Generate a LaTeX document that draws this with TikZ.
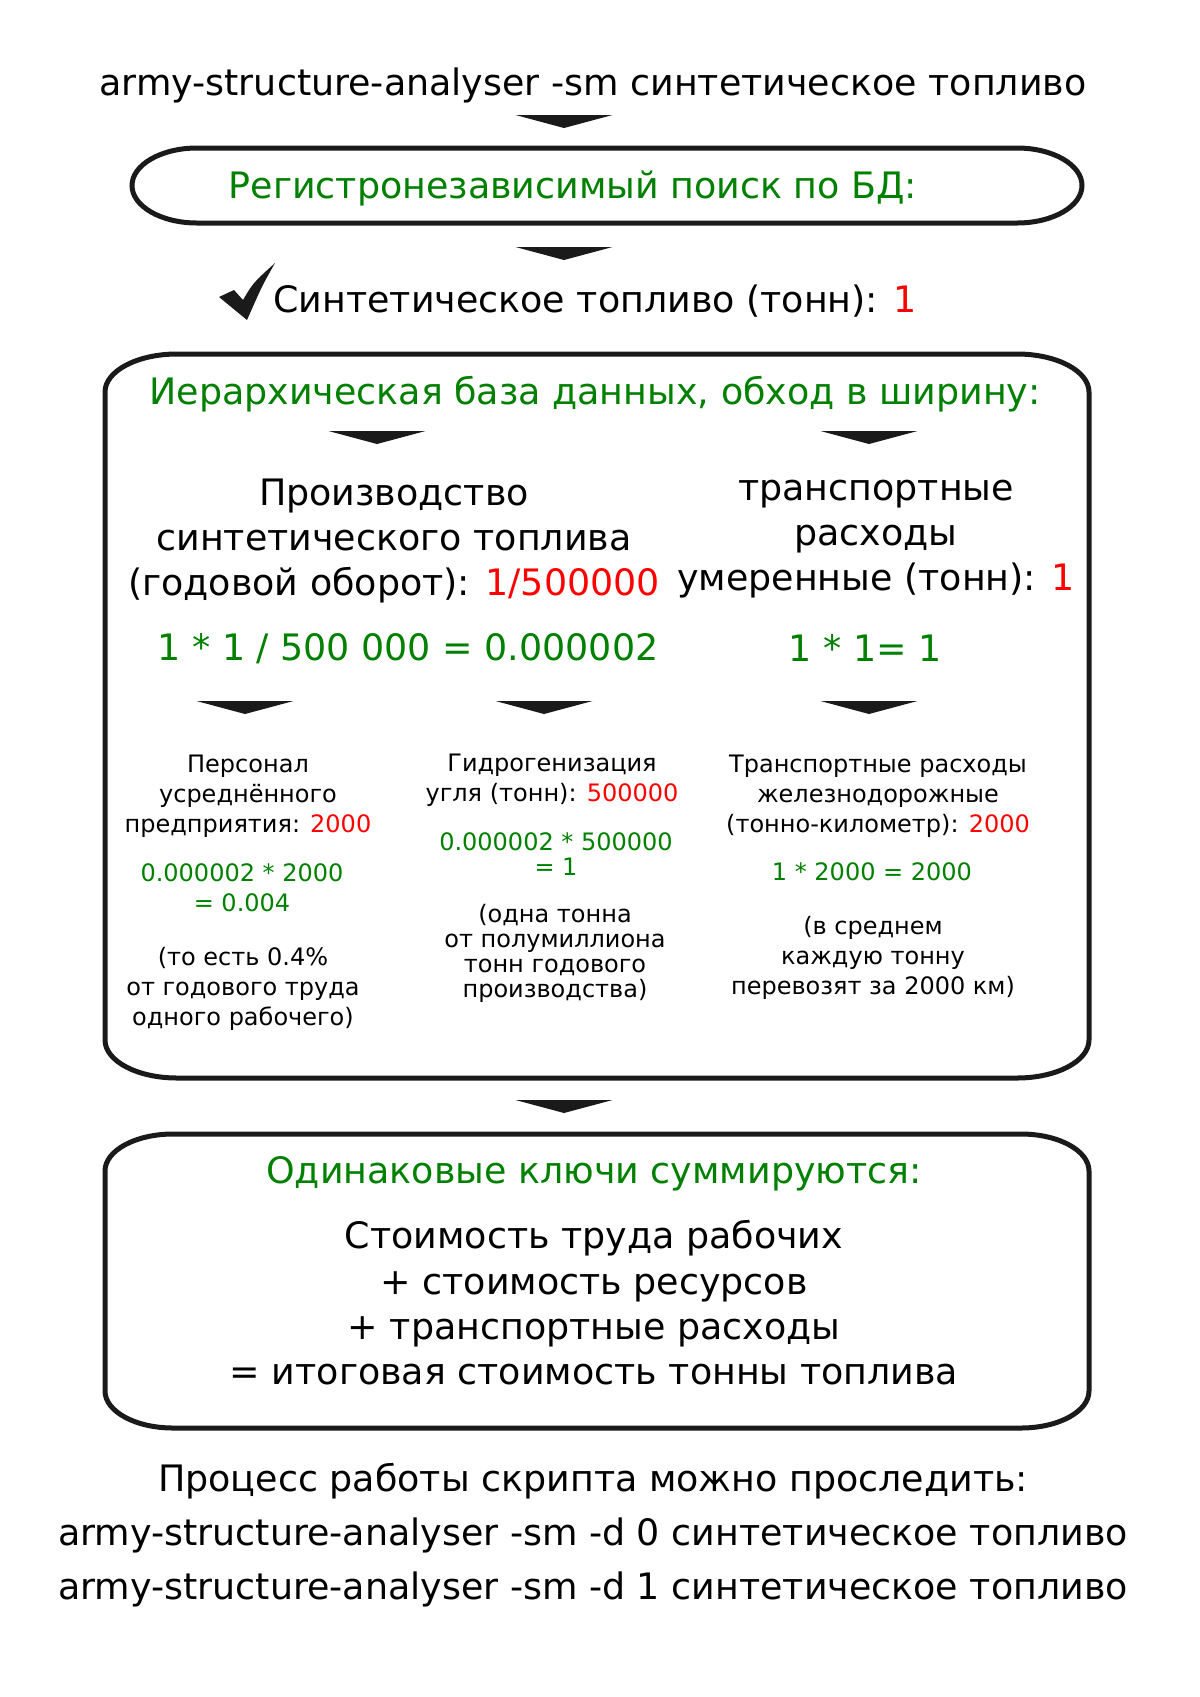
\documentclass[tikz,border=0pt]{standalone}
\usepackage{fontspec}
\setmainfont{DejaVu Sans}
\usepackage{tikz}
\definecolor{okgreen}{HTML}{008000}
\definecolor{hitred}{HTML}{FF0000}
\definecolor{ink}{HTML}{1A1A1A}
\tikzset{
    bigtext/.style={font=\fontsize{27.3}{34}\selectfont,align=center},
    widetext/.style={font=\fontsize{27.3}{40.5}\selectfont,align=center},
    smalltext/.style={font=\fontsize{18}{22.5}\selectfont,align=center},
    tighttext/.style={font=\fontsize{18}{18.75}\selectfont,align=center},
    frame/.style={draw=ink,line width=3.75pt},
    downtip/.pic={\fill[ink] (-48.5,0) -- (48.5,0) -- (0,13) -- cycle;}
}
% frame with elliptic corners: x1,y1,x2,y2,rx,ry
\newcommand{\ovalframe}[6]{%
    \draw[frame] ({#1+#5},#2) -- ({#3-#5},#2)
        arc[start angle=-90,end angle=0,x radius=#5,y radius=#6]
        -- (#3,{#4-#6})
        arc[start angle=0,end angle=90,x radius=#5,y radius=#6]
        -- ({#1+#5},#4)
        arc[start angle=90,end angle=180,x radius=#5,y radius=#6]
        -- (#1,{#2+#6})
        arc[start angle=180,end angle=270,x radius=#5,y radius=#6]
        -- cycle;}
\newcommand{\hit}[1]{\textcolor{hitred}{#1}}

\begin{document}
\begin{tikzpicture}[x=0.75pt,y=-0.75pt]
    \fill[white] (0,0) rectangle (1200,1697);
    \useasboundingbox (0,0) rectangle (1200,1697);

    % запрос
    \node[bigtext] (query) at (593,85) {army-structure-analyser -sm синтетическое топливо};
    \pic at (564,115) {downtip};

    % поиск
    \ovalframe{132}{148}{1082}{223}{65}{37.5}
    \node[bigtext,text=okgreen] (search) at (573,188) {Регистронезависимый поиск по БД:};
    \pic at (564,247) {downtip};

    % найдено
    \fill[ink] (219,297) -- (234,290) -- (243,300) .. controls (253,283) .. (275,263)
        .. controls (262,286) .. (247,320) -- cycle;
    \node[bigtext] (found) at (595,301) {Синтетическое топливо (тонн): \hit{1}};

    % иерархия
    \ovalframe{105}{354}{1089}{1078}{72}{38}
    \node[bigtext,text=okgreen] (hier) at (595,394) {Иерархическая база данных, обход в ширину:};
    \pic at (377,431) {downtip};
    \pic at (869,431) {downtip};

    \node[bigtext] (prod) at (394,541)
        {Производство\\синтетического топлива\\(годовой оборот): \hit{1/500000}};
    \node[bigtext] (trans) at (876,539)
        {транспортные\\расходы\\умеренные (тонн): \hit{1}};
    \node[bigtext,text=okgreen] (prodcalc) at (408,649) {1 * 1 / 500 000 = 0.000002};
    \node[bigtext,text=okgreen] (transcalc) at (865,648) {1 * 1= 1};

    \pic at (245,701) {downtip};
    \pic at (544,701) {downtip};
    \pic at (869,701) {downtip};

    % листья
    \node[smalltext] (staff) at (248,796)
        {Персонал\\усреднённого\\предприятия: \hit{2000}};
    \node[smalltext,text=okgreen] (staffcalc) at (242,888) {0.000002 * 2000\\= 0.004};
    \node[smalltext] (staffnote) at (243,989)
        {(то есть 0.4\%\\от годового труда\\одного рабочего)};

    \node[smalltext] (hydro) at (552,780) {Гидрогенизация\\угля (тонн): \hit{500000}};
    \node[tighttext,text=okgreen] (hydrocalc) at (556,854) {0.000002 * 500000\\= 1};
    \node[tighttext] (hydronote) at (555,953)
        {(одна тонна\\от полумиллиона\\тонн годового\\производства)};

    \node[smalltext] (rail) at (878,796)
        {Транспортные расходы\\железнодорожные\\(тонно-километр): \hit{2000}};
    \node[smalltext,text=okgreen] (railcalc) at (872,872) {1 * 2000 = 2000};
    \node[smalltext] (railnote) at (873,958)
        {(в среднем\\каждую тонну\\перевозят за 2000 км)};

    \pic at (564,1100) {downtip};

    % сумма
    \ovalframe{105}{1134}{1089}{1428}{68}{37}
    \node[bigtext,text=okgreen] (sumhead) at (594,1174) {Одинаковые ключи суммируются:};
    \node[bigtext] (sumtext) at (594,1303)
        {Стоимость труда рабочих\\+ стоимость ресурсов\\+ транспортные расходы\\= итоговая стоимость тонны топлива};

    % трассировка
    \node[widetext] (trace) at (593,1535)
        {Процесс работы скрипта можно проследить:\\army-structure-analyser -sm -d 0 синтетическое топливо\\army-structure-analyser -sm -d 1 синтетическое топливо};
\end{tikzpicture}
\end{document}
